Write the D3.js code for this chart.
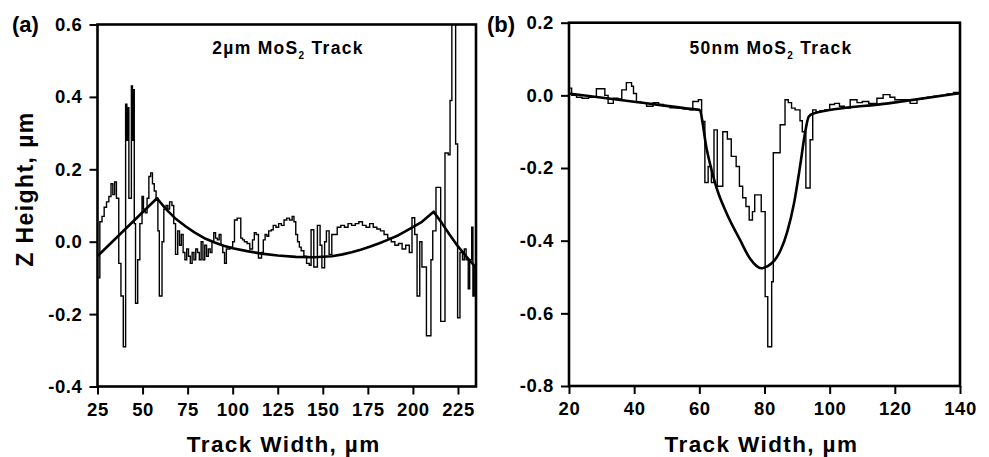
<!DOCTYPE html>
<html>
<head>
<meta charset="utf-8">
<script src="https://cdn.jsdelivr.net/npm/d3@7"></script>
<style>
  body { margin: 0; background: #fff; }
  text { font-family: "Liberation Sans", Arial, sans-serif; font-weight: bold; fill: #000; }
</style>
</head>
<body>
<div id="chart"></div>
<script>
'use strict';

// Panel (a): 2um MoS2 track, measured profile (step values, each holds until the next x)
const trackAx = [25, 26.3, 27.5, 28.7, 30, 31.3, 32.5, 33.5, 34.5, 35.5, 36.8, 38, 39.3, 40.6, 41.3, 41.8, 42.4,
  43.8, 44.4, 44.9, 45.4, 46.1, 47.3, 48.5, 49.7, 50.5, 51.5, 52.5, 53.5, 54.5, 55.5, 56.5, 57.5, 58.5, 59.3,
  60.8, 61.8, 63, 64, 65, 66.3, 67.3, 68.3, 69.5, 70.5, 71.5, 72.5, 73.5, 74.5, 75.5, 76.5, 77.5, 78.5, 79.5,
  80.5, 81.5, 82.5, 83.5, 84.5, 85.5, 86.5, 87.5, 88.5, 89.5, 90.5, 91.5, 92.5, 93.5, 94.5, 95.5, 96.5, 98.5,
  100, 101, 102.5, 104.5, 105.5, 106.5, 108, 109.5, 111, 112, 113, 114.3, 116, 117, 118, 119, 120, 121.5,
  122.5, 124, 125.5, 127, 128.5, 130, 131.5, 133, 134, 135, 136, 137, 138, 139.5, 141, 142.5, 143.5, 145,
  147, 148.5, 149.5, 151, 152, 153.5, 155, 156.5, 158, 160, 162, 164, 166, 168, 170, 172, 174, 176, 178,
  180, 182, 184, 186, 188, 190, 192, 194, 196, 198, 199.5, 201, 202.3, 203.8, 205, 207.5, 210, 211, 212.8,
  215.4, 217.8, 219.6, 220.6, 221.6, 223.7, 224.8, 226.1, 227.5, 228.5, 229.5, 230.7, 231.5, 232.6, 233.3, 234];
const trackAz = [-0.10, 0.055, 0.07, 0.095, 0.11, 0.125, 0.16, 0.13, 0.165, 0.12, -0.06, -0.15, -0.29, 0.38, 0.28, 0.37, 0.12,
  0.43, 0.28, 0.42, 0.05, -0.17, -0.05, 0.05, 0.125, 0.09, 0.08, 0.12, 0.18, 0.19, 0.16, 0.14, 0.12, 0.03, -0.15,
  0.0, 0.09, 0.1, 0.09, 0.11, 0.1, 0.05, -0.035, 0.03, -0.01, 0.02, -0.03, -0.05, -0.02, -0.04, -0.06, -0.03, -0.05, -0.02,
  -0.03, -0.05, 0.0, -0.05, -0.01, -0.04, -0.02, -0.03, 0.0, 0.025, 0.01, 0.005, 0.02, -0.01, -0.03, -0.06, -0.02, -0.015,
  0.0, 0.06, 0.065, 0.01, 0.005, 0.0, -0.005, -0.02, 0.005, 0.025, 0.02, -0.045, -0.03, 0.005, 0.02, 0.015, 0.03, 0.033,
  0.045, 0.04, 0.05, 0.045, 0.06, 0.065, 0.06, 0.07, 0.055, 0.02, 0.0, -0.015, -0.025, -0.04, -0.06, -0.065, 0.033, -0.07,
  0.045, -0.01, -0.072, 0.0, 0.03, -0.035, 0.02, 0.02, 0.04, 0.045, 0.04, 0.05, 0.045, 0.05, 0.055, 0.045, 0.04, 0.05, 0.04,
  0.035, 0.03, 0.02, 0.01, 0.0, -0.01, -0.005, -0.02, -0.01, -0.03, 0.066, 0.02, -0.15, 0.0, -0.07, -0.26, -0.05, 0.03, 0.15,
  -0.22, 0.245, 0.24, 0.39, 0.75, 0.27, -0.21, -0.03, -0.05, -0.02, -0.05, -0.13, -0.05, 0.04, -0.15, -0.07];

// Panel (a): fitted curve
const fitAx = [25, 58, 63, 68, 74, 79, 85, 90, 95, 100, 108, 116, 125, 135, 145, 155, 161, 166, 171, 176, 181, 186, 192, 198, 205, 211.5, 216, 220, 225, 230, 235];
const fitAz = [-0.04, 0.12, 0.09, 0.065, 0.042, 0.025, 0.008, -0.002, -0.011, -0.018, -0.026, -0.033, -0.038, -0.042, -0.043, -0.04, -0.035, -0.029, -0.022, -0.014, -0.005, 0.005, 0.018, 0.035, 0.055, 0.083, 0.052, 0.022, -0.013, -0.043, -0.072];

// Panel (b): 50nm MoS2 track, measured profile
const trackBx = [20, 20.8, 22.3, 24, 26, 28.4, 31, 32, 33.6, 35, 36.2, 37.6, 39.2, 39.8, 40.7, 42, 43.8, 45.8, 47.5, 49,
  51, 53, 55, 57, 58, 59.7, 60.7, 61.7, 62.7, 63.7, 64.5, 65.5, 67.2, 68.6, 69.8, 71.3, 72.3, 73.3, 74.3, 75.3,
  76.3, 77, 79, 80.2, 81, 82.2, 82.7, 84.8, 86.3, 87.3, 88.3, 89.4, 90.9, 91.6, 92.7, 94, 94.8, 95.8, 97, 98.5,
  100, 101.5, 103, 104.5, 106.3, 108.4, 110, 112, 114.5, 116.4, 118.5, 120, 122, 124.7, 126.8, 128.5, 130, 132,
  134, 136, 138];
const trackBz = [0.02, 0.0, -0.005, -0.008, -0.005, 0.018, 0.0, -0.022, -0.008, -0.01, 0.015, 0.035, 0.025, 0.005, -0.018, -0.02, -0.03, -0.02, -0.025, -0.03,
  -0.034, -0.035, -0.037, -0.04, -0.017, -0.012, -0.072, -0.24, -0.196, -0.24, -0.095, -0.25, -0.1, -0.12, -0.168, -0.196, -0.25, -0.282, -0.306, -0.343,
  -0.32, -0.274, -0.32, -0.554, -0.692, -0.513, -0.158, -0.081, -0.012, -0.02, -0.035, -0.04, -0.07, -0.1, -0.255, -0.122, -0.04, -0.045, -0.042, -0.04,
  -0.025, -0.022, -0.03, -0.035, -0.012, -0.02, -0.017, -0.022, -0.008, 0.002, -0.005, -0.012, -0.012, -0.022, -0.01, -0.007, -0.005, -0.002,
  0.0, 0.004, 0.008];

// Panel (b): fitted curve
const fitBx = [20, 40, 58, 60, 62.3, 65.3, 68.4, 72.5, 75.6, 77.6, 79, 81, 83, 85, 87, 89, 91, 92.5, 93.6, 95, 118, 140];
const fitBz = [0.005, -0.0175, -0.038, -0.04, -0.15, -0.255, -0.325, -0.398, -0.45, -0.47, -0.476, -0.47, -0.455, -0.425, -0.375, -0.3, -0.19, -0.1, -0.058, -0.05, -0.022, 0.006];

// Ticks
const xTicksA = [25, 50, 75, 100, 125, 150, 175, 200, 225];
const yTicksA = [-0.4, -0.2, 0.0, 0.2, 0.4, 0.6];
const xTicksB = [20, 40, 60, 80, 100, 120, 140];
const yTicksB = [-0.8, -0.6, -0.4, -0.2, 0.0, 0.2];

const width = 989;
const height = 457;

const svg = d3.select("#chart").append("svg")
    .attr("width", width)
    .attr("height", height);

function drawPanel(cfg) {
  const x = d3.scaleLinear().domain(cfg.xDomain).range([cfg.left, cfg.right]);
  const y = d3.scaleLinear().domain(cfg.yDomain).range([cfg.bottom, cfg.top]);

  const g = svg.append("g");

  g.append("clipPath").attr("id", cfg.id + "-clip")
    .append("rect")
      .attr("x", cfg.left).attr("y", cfg.top)
      .attr("width", cfg.right - cfg.left).attr("height", cfg.bottom - cfg.top);

  const plot = g.append("g").attr("clip-path", `url(#${cfg.id}-clip)`);

  // measured profile as steps, closed with the last value at the domain end
  const stepData = cfg.trackX.map((d, i) => [d, cfg.trackZ[i]]);
  stepData.push([cfg.xDomain[1], cfg.trackZ[cfg.trackZ.length - 1]]);

  plot.append("path")
    .datum(stepData)
    .attr("fill", "none")
    .attr("stroke", "#000")
    .attr("stroke-width", 1.4)
    .attr("d", d3.line().x(d => x(d[0])).y(d => y(d[1])).curve(d3.curveStepAfter));

  plot.append("path")
    .datum(cfg.fitX.map((d, i) => [d, cfg.fitZ[i]]))
    .attr("fill", "none")
    .attr("stroke", "#000")
    .attr("stroke-width", 2.6)
    .attr("stroke-linejoin", "round")
    .attr("d", d3.line().x(d => x(d[0])).y(d => y(d[1])).curve(cfg.fitCurve));

  // axes
  const xAxis = g.append("g")
    .attr("transform", `translate(0,${cfg.bottom})`)
    .call(d3.axisBottom(x).tickValues(cfg.xTicks).tickSize(8).tickPadding(8).tickFormat(d => d));
  const yAxis = g.append("g")
    .attr("transform", `translate(${cfg.left},0)`)
    .call(d3.axisLeft(y).tickValues(cfg.yTicks).tickSize(8).tickPadding(7).tickFormat(d => d.toFixed(1)));

  [xAxis, yAxis].forEach(a => {
    a.select(".domain").remove();
    a.selectAll(".tick line").attr("stroke", "#000").attr("stroke-width", 2);
    a.selectAll(".tick text")
      .attr("fill", "#000")
      .style("font-size", "18.5px")
      .style("letter-spacing", "0.6px")
      .style("font-family", '"Liberation Sans", Arial, sans-serif')
      .style("font-weight", "bold");
  });

  // frame
  g.append("rect")
    .attr("x", cfg.left).attr("y", cfg.top)
    .attr("width", cfg.right - cfg.left).attr("height", cfg.bottom - cfg.top)
    .attr("fill", "none")
    .attr("stroke", "#000")
    .attr("stroke-width", 2.6);

  // title inside the plot
  const t = g.append("text")
    .attr("x", cfg.titleX)
    .attr("y", 54)
    .attr("text-anchor", "middle")
    .style("font-size", "17.5px")
    .style("letter-spacing", "1.3px");
  t.append("tspan").text(cfg.titleLead + " MoS");
  t.append("tspan").attr("dy", 5).style("font-size", "10px").text("2");
  t.append("tspan").attr("dy", -5).text(" Track");

  // x axis title
  g.append("text")
    .attr("x", (cfg.left + cfg.right) / 2 - 3)
    .attr("y", 452)
    .attr("text-anchor", "middle")
    .style("font-size", "22.5px")
    .style("letter-spacing", "1.4px")
    .text("Track Width, \u00b5m");

  // panel letter
  g.append("text")
    .attr("x", cfg.letterX)
    .attr("y", 32)
    .style("font-size", "22px")
    .text(cfg.letter);
}

drawPanel({
  id: "a", letter: "(a)", letterX: 12, titleLead: "2\u00b5m", titleX: 288,
  left: 97.5, right: 476, top: 24.5, bottom: 386.5,
  xDomain: [25, 235], yDomain: [-0.4, 0.6],
  xTicks: xTicksA, yTicks: yTicksA,
  trackX: trackAx, trackZ: trackAz, fitX: fitAx, fitZ: fitAz,
  fitCurve: d3.curveLinear
});

drawPanel({
  id: "b", letter: "(b)", letterX: 487, titleLead: "50nm", titleX: 771,
  left: 569, right: 960, top: 22.7, bottom: 386,
  xDomain: [20, 140], yDomain: [-0.8, 0.2],
  xTicks: xTicksB, yTicks: yTicksB,
  trackX: trackBx, trackZ: trackBz, fitX: fitBx, fitZ: fitBz,
  fitCurve: d3.curveMonotoneX
});

// shared y axis title
svg.append("text")
  .attr("transform", "translate(33,189) rotate(-90)")
  .attr("text-anchor", "middle")
  .style("font-size", "23px")
  .style("letter-spacing", "1.4px")
  .text("Z Height, \u00b5m");
</script>
</body>
</html>
